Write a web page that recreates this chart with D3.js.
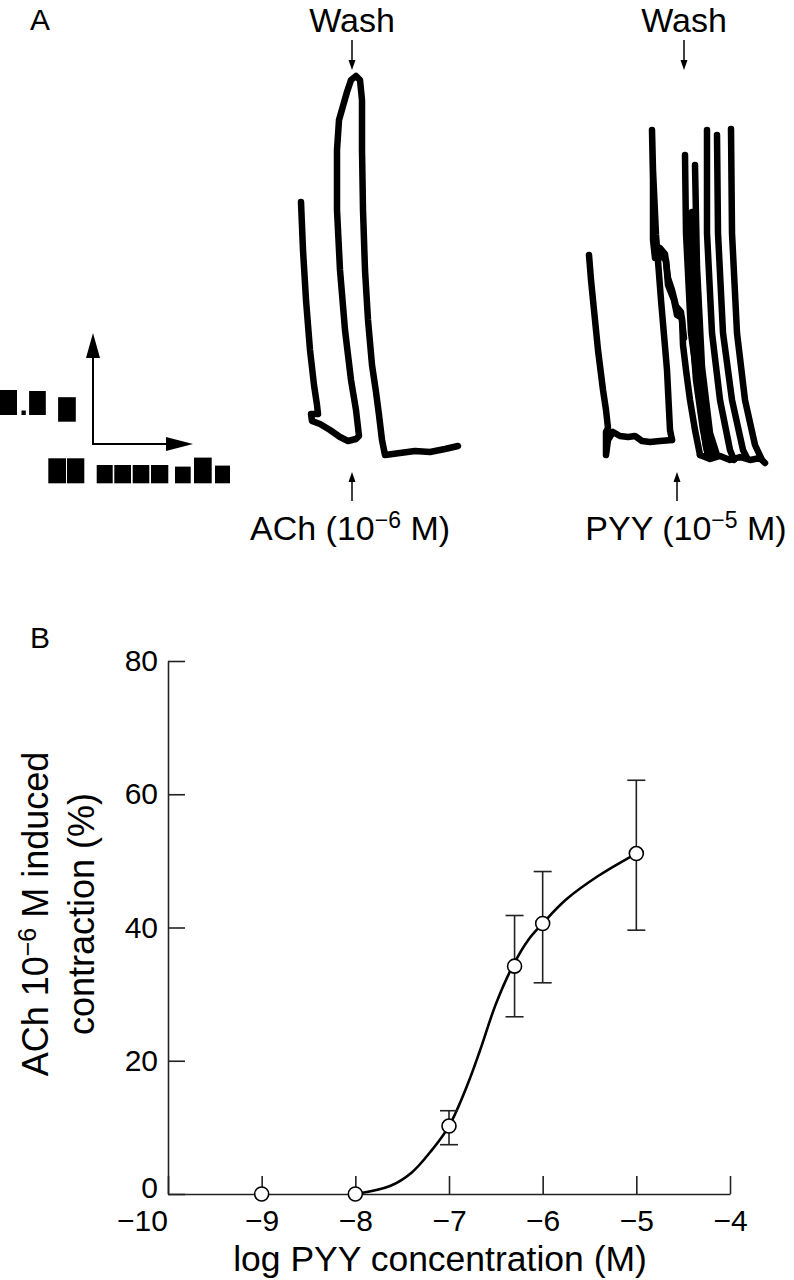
<!DOCTYPE html>
<html><head><meta charset="utf-8">
<script src="https://cdn.jsdelivr.net/npm/d3@7"></script>
<style>body{margin:0;background:#fff} svg{display:block;font-family:"Liberation Sans",Arial,Helvetica,sans-serif}</style>
</head><body>
<svg id="c" width="794" height="1280"></svg>
<script>
// ---------- Panel B data ----------
const logConc = [-9, -8, -7, -6.3, -6, -5];
const meanContraction = [0, 0, 10.2, 34.2, 40.6, 51.1];
const errLow = [null, null, 7.4, 26.6, 31.7, 39.6];
const errHigh = [null, null, 12.5, 41.8, 48.4, 62.1];
const fitLogConc = [-8, -7.63, -7.4, -7.2, -7.0, -6.8, -6.67, -6.5, -6.32, -6.15, -6.0, -5.75, -5.4, -5.0];
const fitContraction = [0, 1.2, 3.2, 6.3, 10.2, 16.5, 21.5, 28.5, 34.2, 38.2, 40.6, 44.2, 47.8, 51.1];
const xTickValues = [-10, -9, -8, -7, -6, -5, -4];
const yTickValues = [0, 20, 40, 60, 80];

// ---------- Panel A trace data (time units, tension units) ----------
const achTrace = [[15.5,67],[16.5,55],[18,42.5],[20,30],[22,21.25],[23.5,16.25],[24,14],[20.5,14],[21,12.25],[25,11.5],[30,10],[35,8.25],[39,7.25],[43,7.75],[44.5,8.5],[43,15],[40.5,22.5],[37.5,35],[35,50],[33.5,65],[33.5,80],[34.5,87.5],[36.5,91],[38.5,94.5],[40.5,97.5],[43,98.5],[45,97.5],[46,92.5],[46,80],[46.5,65],[47.5,50],[49,37.5],[51,26.25],[53,19.5],[54.5,13.75],[56,7.5],[57.5,3.75],[65,4.25],[72.5,4.75],[80,4.5],[87.5,5.25],[94,6]];
const pyyStroke1 = [[159.5,53.75],[160.5,47.5],[162,40],[164,30],[166.5,20],[168,15],[169,10.5],[168,9.5],[168,3.75],[169,7.5],[171.5,9.5],[175,8.5],[179,8.25],[182.5,8.5],[186,7.25],[190,7],[195,7.25],[201,7.5]];
const pyyStroke2 = [[201,7.5],[200,10],[198.5,25],[195.5,42.5],[193,58.75],[191.5,75],[191,85],[191.5,72.5],[191.5,57.5],[192.5,53],[195,53.75],[198,52.5],[199,46.25],[202,42.5],[203.5,38.75],[206,38],[206.5,31.25],[208,25],[210,17.5],[212.5,10],[215,3.75]];
const pyyPlateau = [[192.5,56],[195,55.5],[197.5,54],[199,48],[201,45],[203,41],[205.5,39.5],[207,33]];
const pyyStroke3 = [[207.5,78.75],[208,59.25],[210.5,34.25],[215,17.5],[218,5.75],[219.5,3]];
const pyyStroke3b = [[209,64],[210,42.5],[213,22.5],[216.5,10],[219,3.5]];
const pyyStroke3c = [[211,64.5],[212,42.5],[214.5,22.5],[218.5,7.5],[221,3]];
const pyyStroke3d = [[210,62],[211,40],[213.8,21],[217.5,8],[220,3]];
const pyyStroke4 = [[212.5,76.25],[213.5,50.75],[216,25.75],[220,9.25],[223.5,3.75]];
const pyyStroke5 = [[218.5,85],[218.5,59.25],[221,34.25],[225,17.5],[230,5],[232,2.5]];
const pyyStroke6 = [[223.5,83.75],[224,59.25],[226.5,34.25],[231,17.5],[236.5,5],[238.5,3]];
const pyyStroke7 = [[230.5,85.25],[231,59.25],[233.5,34.25],[237.5,17.5],[242.5,6.25],[246,2.5]];
const pyyBaseline = [[215,3.75],[220,2.75],[225,3.5],[230,2.5],[235,3.25],[240,2.5],[245,3],[247.5,1.75]];

// scale-bar label glyph boxes (unreadable glyphs in the source): width, height, descender, gap-after
const tensionGlyphs = [[17,25,0,4.5],[4.3,4.5,0,3.3],[16.7,24,0,12.3],[17.7,24.5,6.7,0]];
const timeGlyphs = [[17.7,25,0,1],[17.3,25,0,12.4],[16,18.3,0,1.6],[16.7,18.3,0,1.7],[16.6,18.3,0,1.7],[17.3,18.3,0,6.7],[15.7,16.7,0,3.3],[17.7,25.7,0,3.3],[15,17.7,0,0]];

const svg = d3.select("#c");
const FONT = '"Liberation Sans", Arial, Helvetica, sans-serif';

// ---------- Panel A ----------
const xA = d3.scaleLinear().domain([0, 260]).range([270, 790]);
const yA = d3.scaleLinear().domain([0, 100]).range([470, 70]);
const traceLine = d3.line().x(d => xA(d[0])).y(d => yA(d[1]));
const traces = [achTrace, pyyStroke1, pyyStroke2, pyyPlateau, pyyStroke3, pyyStroke3b, pyyStroke3c, pyyStroke3d, pyyStroke4, pyyStroke5, pyyStroke6, pyyStroke7, pyyBaseline];
svg.append("g").selectAll("path").data(traces).join("path")
  .attr("d", traceLine).attr("fill", "none").attr("stroke", "#000")
  .attr("stroke-width", 6.5).attr("stroke-linejoin", "round").attr("stroke-linecap", "round");

svg.append("text").attr("x", 30).attr("y", 30).attr("font-size", 30).text("A");

function downArrow(x, y0, y1) {
  svg.append("line").attr("x1", x).attr("x2", x).attr("y1", y0).attr("y2", y1 - 6).attr("stroke", "#000").attr("stroke-width", 1.5);
  svg.append("path").attr("d", `M${x-3.5},${y1-10}L${x+3.5},${y1-10}L${x},${y1}Z`).attr("fill", "#000");
}
function upArrow(x, y0, y1) { // y0 bottom, y1 tip
  svg.append("line").attr("x1", x).attr("x2", x).attr("y1", y0).attr("y2", y1 + 6).attr("stroke", "#000").attr("stroke-width", 1.5);
  svg.append("path").attr("d", `M${x-3.5},${y1+10}L${x+3.5},${y1+10}L${x},${y1}Z`).attr("fill", "#000");
}
const labA = [
  {x: 352, ax: 352, lx: 350, wash: "Wash", drug: "ACh", exp: "−6"},
  {x: 684, ax: 677, lx: 686, wash: "Wash", drug: "PYY", exp: "−5"}
];
labA.forEach(l => {
  svg.append("text").attr("x", l.x).attr("y", 32).attr("text-anchor", "middle").attr("font-size", 34).text(l.wash);
  downArrow(l.x, 40, 70);
  upArrow(l.ax, 501, 472);
  const t = svg.append("text").attr("x", l.lx).attr("y", 540).attr("text-anchor", "middle").attr("font-size", 34);
  t.append("tspan").text(l.drug + " (10");
  t.append("tspan").attr("font-size", 23).attr("dy", -12).text(l.exp);
  t.append("tspan").attr("dy", 12).text(" M)");
});

// scale bar
const sb = svg.append("g");
sb.append("line").attr("x1", 93).attr("x2", 93).attr("y1", 444).attr("y2", 356).attr("stroke", "#000").attr("stroke-width", 2);
sb.append("path").attr("d", "M86,358L100,358L93,333Z").attr("fill", "#000");
sb.append("line").attr("x1", 92).attr("x2", 168).attr("y1", 444).attr("y2", 444).attr("stroke", "#000").attr("stroke-width", 2);
sb.append("path").attr("d", "M166,437L166,451L193,444Z").attr("fill", "#000");
function glyphRow(glyphs, x0, base) {
  let x = x0;
  glyphs.forEach(g => {
    sb.append("rect").attr("x", x).attr("y", base - g[1] + g[2]).attr("width", g[0]).attr("height", g[1]).attr("fill", "#000");
    x += g[0] + g[3];
  });
}
glyphRow(tensionGlyphs, 0, 415);
glyphRow(timeGlyphs, 48.3, 483.3);

// ---------- Panel B ----------
const x = d3.scaleLinear().domain([-10, -4]).range([168, 730]);
const y = d3.scaleLinear().domain([0, 80]).range([1194, 661]);

svg.append("text").attr("x", 30).attr("y", 648).attr("font-size", 30).text("B");

const fmt = d3.format("d");
const gx = svg.append("g").attr("transform", `translate(0,${y(0)})`)
  .call(d3.axisBottom(x).tickValues(xTickValues).tickSize(-18).tickSizeOuter(0).tickPadding(16).tickFormat(fmt));
const gy = svg.append("g").attr("transform", `translate(${x(-10)},0)`)
  .call(d3.axisLeft(y).tickValues(yTickValues).tickSize(-17).tickSizeOuter(0).tickPadding(10).tickFormat(fmt));
[gx, gy].forEach(g => {
  g.selectAll("path.domain").attr("stroke", "#222").attr("stroke-width", 1.6);
  g.selectAll(".tick line").attr("stroke", "#222").attr("stroke-width", 1.6);
  g.selectAll(".tick text").attr("font-size", 30).attr("font-family", FONT).attr("fill", "#000");
});
gx.selectAll(".tick text").filter(d => d === -10).attr("dx", -26);
gy.selectAll(".tick text").filter(d => d === 0).attr("y", -6);

// fitted curve
const fitData = fitLogConc.map((v, i) => [v, fitContraction[i]]);
svg.append("path").datum(fitData)
  .attr("d", d3.line().x(d => x(d[0])).y(d => y(d[1])).curve(d3.curveCatmullRom.alpha(0.5)))
  .attr("fill", "none").attr("stroke", "#000").attr("stroke-width", 2.6);

// error bars
const pts = logConc.map((v, i) => ({x: v, y: meanContraction[i], lo: errLow[i], hi: errHigh[i]}));
const eb = svg.append("g").selectAll("g").data(pts.filter(d => d.lo !== null)).join("g").attr("stroke", "#222").attr("stroke-width", 1.6);
eb.append("line").attr("x1", d => x(d.x)).attr("x2", d => x(d.x)).attr("y1", d => y(d.lo)).attr("y2", d => y(d.hi));
eb.append("line").attr("x1", d => x(d.x) - 9).attr("x2", d => x(d.x) + 9).attr("y1", d => y(d.lo)).attr("y2", d => y(d.lo));
eb.append("line").attr("x1", d => x(d.x) - 9).attr("x2", d => x(d.x) + 9).attr("y1", d => y(d.hi)).attr("y2", d => y(d.hi));

svg.append("g").selectAll("circle").data(pts).join("circle")
  .attr("cx", d => x(d.x)).attr("cy", d => y(d.y)).attr("r", 7)
  .attr("fill", "#fff").attr("stroke", "#000").attr("stroke-width", 1.6);

// axis titles
svg.append("text").attr("x", 440).attr("y", 1271).attr("text-anchor", "middle").attr("font-size", 35.5).text("log PYY concentration (M)");
const midY = 914;
const yt = svg.append("text").attr("transform", `translate(48,${midY}) rotate(-90)`).attr("text-anchor", "middle").attr("font-size", 36);
yt.append("tspan").text("ACh 10");
yt.append("tspan").attr("font-size", 25).attr("dy", -12).text("−6");
yt.append("tspan").attr("dy", 12).text(" M induced");
svg.append("text").attr("transform", `translate(94,${midY}) rotate(-90)`).attr("text-anchor", "middle").attr("font-size", 36).text("contraction (%)");
</script>
</body></html>
